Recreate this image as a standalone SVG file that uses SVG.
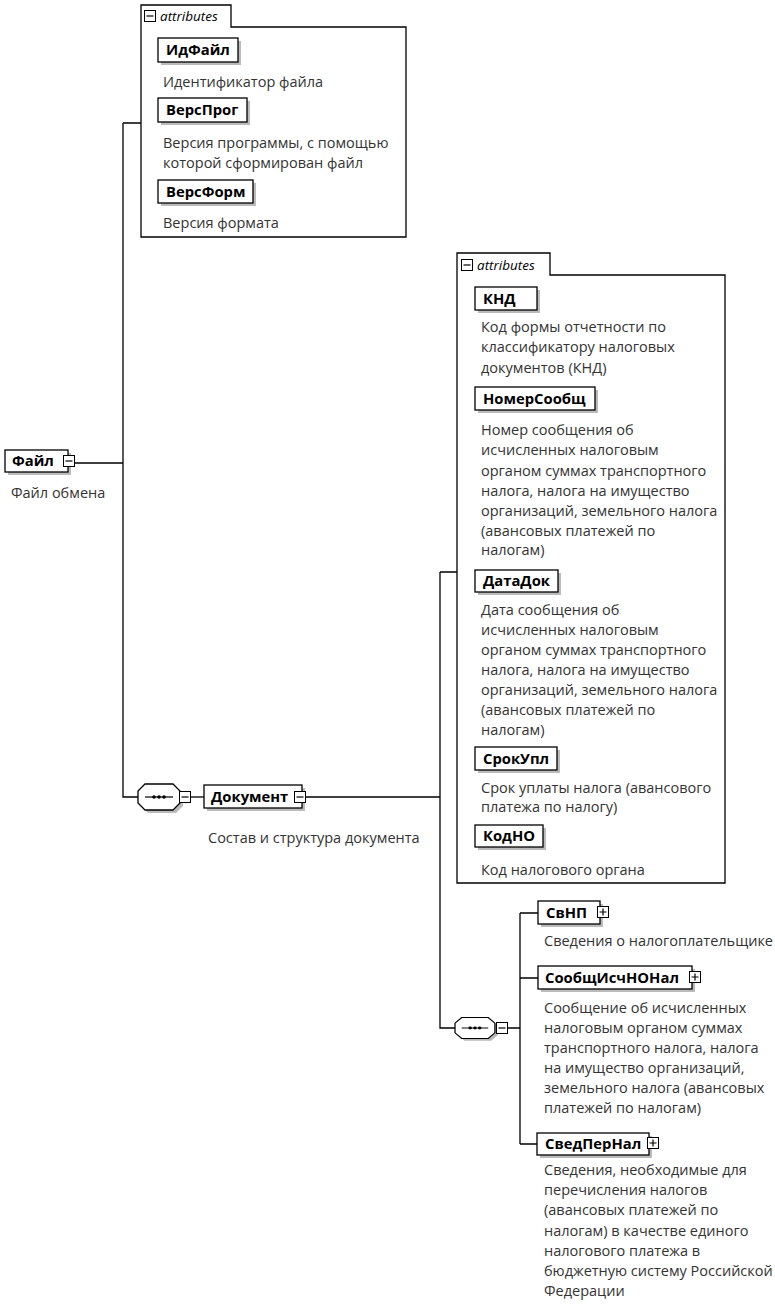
<svg xmlns="http://www.w3.org/2000/svg" width="775" height="1308" viewBox="0 0 775 1308">
<style>
.bg{fill:#fff}
.box{fill:#fff;stroke:#000;stroke-width:1.3}
.shd{fill:#bbb}
.lbl{font-family:"Open Sans","DejaVu Sans",sans-serif;font-size:14.8px;font-weight:bold;fill:#000}
.dsc{font-family:"Open Sans","DejaVu Sans",sans-serif;font-size:14.5px;fill:#333}
.tab{font-family:"Open Sans","DejaVu Sans",sans-serif;font-size:13.5px;font-style:italic;fill:#000}
.ln{fill:none;stroke:#000;stroke-width:1.3}
.ic{fill:#fff;stroke:#000;stroke-width:1}
</style>
<defs>
<g id="minus"><rect class="ic" x="-5.5" y="-5.5" width="11" height="11"/><path d="M-3.5 0H3.5" stroke="#000" stroke-width="1.2"/></g>
<g id="plus"><rect class="ic" x="-5.5" y="-5.5" width="11" height="11"/><path d="M-3.5 0H3.5M0 -3.5V3.5" stroke="#000" stroke-width="1.2"/></g>
<g id="seq"><path d="M7 -13H35L42 -6V6L35 13H7L0 6V-6Z" fill="#bbb" transform="translate(3,3)"/><path class="box" d="M7 -13H35L42 -6V6L35 13H7L0 6V-6Z"/><path d="M7 0H35" stroke="#000" stroke-width="1.2"/><circle cx="16" cy="0" r="1.8"/><circle cx="21" cy="0" r="1.8"/><circle cx="26" cy="0" r="1.8"/></g>
</defs>
<rect class="bg" width="775" height="1308"/>

<g id="connectors">
<path class="ln" d="M75 463H123M123 123V797H138M123 123H141"/>
<path class="ln" d="M306 797H440M440 572H458M440 572V1028H455"/>
<path class="ln" d="M508 1028H520M520 913V1144M520 913H538M520 978H538M520 1144H538"/>
<line class="ln" x1="191" y1="797" x2="204" y2="797"/>
</g>

<g id="attrs1">
<path class="box" d="M141 27V5H231V27H406V237H141Z"/>
<use href="#minus" x="150" y="16"/>
<text class="tab" x="160" y="21">attributes</text>
</g>
<g id="ИдФайл">
<rect class="shd" x="161" y="41" width="80" height="24"/>
<rect class="box" x="158" y="38" width="80" height="24"/>
<text class="lbl" x="166" y="55">ИдФайл</text>
<text class="dsc" x="163" y="87">Идентификатор файла</text>
</g>
<g id="ВерсПрог">
<rect class="shd" x="161" y="101" width="89" height="24"/>
<rect class="box" x="158" y="98" width="89" height="24"/>
<text class="lbl" x="166" y="115">ВерсПрог</text>
<text class="dsc" x="163" y="148">Версия программы, с помощью</text>
<text class="dsc" x="163" y="168">которой сформирован файл</text>
</g>
<g id="ВерсФорм">
<rect class="shd" x="161" y="183" width="95" height="23"/>
<rect class="box" x="158" y="180" width="95" height="23"/>
<text class="lbl" x="166" y="197">ВерсФорм</text>
<text class="dsc" x="163" y="228">Версия формата</text>
</g>

<g id="Файл">
<rect class="shd" x="8" y="453" width="63" height="22"/>
<rect class="box" x="5" y="450" width="63" height="22"/>
<text class="lbl" x="12" y="466">Файл</text>
<use href="#minus" x="69" y="461"/>
<text class="dsc" x="11" y="498">Файл обмена</text>
</g>

<g id="seq1">
<use href="#seq" x="138" y="797"/>
<use href="#minus" x="185" y="797"/>
</g>

<g id="Документ">
<rect class="shd" x="207" y="788" width="98" height="23"/>
<rect class="box" x="204" y="785" width="98" height="23"/>
<text class="lbl" x="211" y="802">Документ</text>
<use href="#minus" x="300" y="797"/>
<text class="dsc" x="208" y="843">Состав и структура документа</text>
</g>

<g id="attrs2">
<path class="box" d="M457 275V253H550V275H725V883H457Z"/>
<use href="#minus" x="467" y="265"/>
<text class="tab" x="477" y="270">attributes</text>
</g>
<g id="КНД">
<rect class="shd" x="478" y="290" width="62" height="23"/>
<rect class="box" x="475" y="287" width="62" height="23"/>
<text class="lbl" x="483" y="304">КНД</text>
<text class="dsc" x="481" y="332">Код формы отчетности по</text>
<text class="dsc" x="481" y="352">классификатору налоговых</text>
<text class="dsc" x="481" y="373">документов (КНД)</text>
</g>
<g id="НомерСообщ">
<rect class="shd" x="478" y="390" width="120" height="23"/>
<rect class="box" x="475" y="387" width="120" height="23"/>
<text class="lbl" x="483" y="404">НомерСообщ</text>
<text class="dsc" x="481" y="435">Номер сообщения об</text>
<text class="dsc" x="481" y="455">исчисленных налоговым</text>
<text class="dsc" x="481" y="476">органом суммах транспортного</text>
<text class="dsc" x="481" y="496">налога, налога на имущество</text>
<text class="dsc" x="481" y="516">организаций, земельного налога</text>
<text class="dsc" x="481" y="536">(авансовых платежей по</text>
<text class="dsc" x="481" y="555">налогам)</text>
</g>
<g id="ДатаДок">
<rect class="shd" x="478" y="573" width="83" height="22"/>
<rect class="box" x="475" y="570" width="83" height="22"/>
<text class="lbl" x="483" y="586">ДатаДок</text>
<text class="dsc" x="481" y="615">Дата сообщения об</text>
<text class="dsc" x="481" y="635">исчисленных налоговым</text>
<text class="dsc" x="481" y="655">органом суммах транспортного</text>
<text class="dsc" x="481" y="675">налога, налога на имущество</text>
<text class="dsc" x="481" y="695">организаций, земельного налога</text>
<text class="dsc" x="481" y="715">(авансовых платежей по</text>
<text class="dsc" x="481" y="735">налогам)</text>
</g>
<g id="СрокУпл">
<rect class="shd" x="478" y="750" width="82" height="23"/>
<rect class="box" x="475" y="747" width="82" height="23"/>
<text class="lbl" x="483" y="764">СрокУпл</text>
<text class="dsc" x="481" y="793">Срок уплаты налога (авансового</text>
<text class="dsc" x="481" y="812">платежа по налогу)</text>
</g>
<g id="КодНО">
<rect class="shd" x="478" y="828" width="68" height="22"/>
<rect class="box" x="475" y="825" width="68" height="22"/>
<text class="lbl" x="483" y="841">КодНО</text>
<text class="dsc" x="481" y="875">Код налогового органа</text>
</g>

<g id="seq2">
<use href="#seq" x="455" y="1028" transform="translate(455,1028) scale(0.95,0.8) translate(-455,-1028)"/>
<use href="#minus" x="502" y="1028"/>
</g>

<g id="СвНП">
<rect class="shd" x="541" y="904" width="62" height="23"/>
<rect class="box" x="538" y="901" width="62" height="23"/>
<text class="lbl" x="546" y="918">СвНП</text>
<use href="#plus" x="603" y="912"/>
<text class="dsc" x="544" y="946">Сведения о налогоплательщике</text>
</g>
<g id="СообщИсчНОНал">
<rect class="shd" x="541" y="969" width="154" height="23"/>
<rect class="box" x="538" y="966" width="154" height="23"/>
<text class="lbl" x="545" y="983">СообщИсчНОНал</text>
<use href="#plus" x="695" y="977"/>
<text class="dsc" x="544" y="1013">Сообщение об исчисленных</text>
<text class="dsc" x="544" y="1033">налоговым органом суммах</text>
<text class="dsc" x="544" y="1053">транспортного налога, налога</text>
<text class="dsc" x="544" y="1073">на имущество организаций,</text>
<text class="dsc" x="544" y="1093">земельного налога (авансовых</text>
<text class="dsc" x="544" y="1113">платежей по налогам)</text>
</g>
<g id="СведПерНал">
<rect class="shd" x="540" y="1136" width="112" height="22"/>
<rect class="box" x="537" y="1133" width="112" height="22"/>
<text class="lbl" x="545" y="1149">СведПерНал</text>
<use href="#plus" x="653" y="1143"/>
<text class="dsc" x="544" y="1175">Сведения, необходимые для</text>
<text class="dsc" x="544" y="1195">перечисления налогов</text>
<text class="dsc" x="544" y="1215">(авансовых платежей по</text>
<text class="dsc" x="544" y="1236">налогам) в качестве единого</text>
<text class="dsc" x="544" y="1256">налогового платежа в</text>
<text class="dsc" x="544" y="1276">бюджетную систему Российской</text>
<text class="dsc" x="544" y="1296">Федерации</text>
</g>
</svg>
